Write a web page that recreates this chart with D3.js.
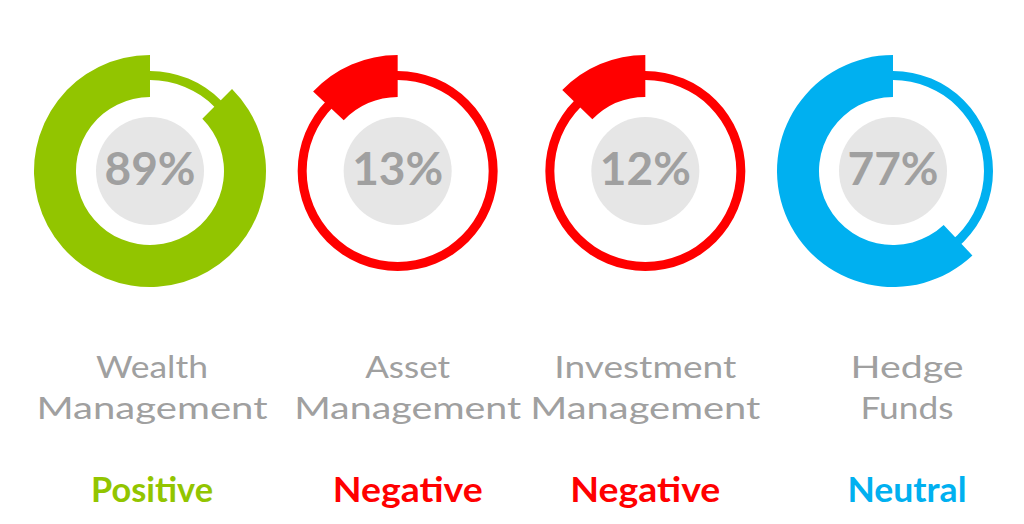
<!DOCTYPE html>
<html>
<head>
<meta charset="utf-8">
<script src="https://cdn.jsdelivr.net/npm/d3@7"></script>
<style>
  body { margin: 0; background: #fff; }
  svg { display: block; }
</style>
</head>
<body>
<script>
// Data
var categories = ["Wealth|Management", "Asset|Management", "Investment|Management", "Hedge|Funds"];
var pctLabels = ["89%", "13%", "12%", "77%"];
var arcShare = [87.5, 13, 12.7, 62];   // share of ring drawn thick, as it appears
var sentiments = ["Positive", "Negative", "Negative", "Neutral"];
var colors = ["#92c500", "#ff0000", "#ff0000", "#00b0f0"];

var width = 1024,
    height = 524,
    cy = 171,
    labelShift = [2, 10, 0, 14],       // text columns sit a touch right of the rings
    nameWidth = [[112, 231], [85, 227], [182, 230], [113, 93]],
    sentWidth = [122, 150, 150, 119];

var svg = d3.select("body")
    .append("svg")
    .attr("width", width)
    .attr("height", height);

var x = d3.scalePoint()
    .domain(d3.range(categories.length))
    .range([150, 893]);

var share = d3.scaleLinear()
    .domain([0, 100])
    .range([0, 2 * Math.PI]);

var thinArc = d3.arc()
    .innerRadius(91)
    .outerRadius(100)
    .startAngle(0)
    .endAngle(2 * Math.PI);

var thickArc = d3.arc()
    .innerRadius(74)
    .outerRadius(116)
    .startAngle(function(d) { return -share(d); })
    .endAngle(0);

var g = svg.selectAll("g.donut")
    .data(arcShare)
    .enter()
    .append("g")
    .attr("class", "donut")
    .attr("transform", function(d, i) {
        return "translate(" + x(i) + "," + cy + ")";
    });

// thin full ring underneath
g.append("path")
    .attr("d", thinArc)
    .attr("fill", function(d, i) { return colors[i]; });

// thick part, counter-clockwise from the top
g.append("path")
    .attr("d", thickArc)
    .attr("fill", function(d, i) { return colors[i]; });

g.append("circle")
    .attr("r", 54)
    .attr("fill", "#e6e6e6");

g.append("text")
    .attr("text-anchor", "middle")
    .attr("x", 0)
    .attr("y", 14)
    .style("font-family", "Lato, sans-serif")
    .style("font-weight", 700)
    .style("font-size", "46px")
    .attr("fill", "#a0a0a0")
    .text(function(d, i) { return pctLabels[i]; });

// category names, two lines each
var names = svg.selectAll("g.name")
    .data(categories)
    .enter()
    .append("g")
    .attr("class", "name");

names.each(function(d, i) {
    var lines = d.split("|");
    d3.select(this).selectAll("text")
        .data(lines)
        .enter()
        .append("text")
        .attr("text-anchor", "middle")
        .attr("x", x(i) + labelShift[i])
        .attr("y", function(l, j) { return 378 + j * 41; })
        .attr("textLength", function(l, j) { return nameWidth[i][j]; })
        .attr("lengthAdjust", "spacingAndGlyphs")
        .style("font-family", "Lato, sans-serif")
        .style("font-weight", 400)
        .style("font-size", "31px")
        .attr("fill", "#a0a0a0")
        .text(function(l) { return l; });
});

svg.selectAll("text.sentiment")
    .data(sentiments)
    .enter()
    .append("text")
    .attr("class", "sentiment")
    .attr("text-anchor", "middle")
    .attr("x", function(d, i) { return x(i) + labelShift[i]; })
    .attr("y", 502)
    .attr("textLength", function(d, i) { return sentWidth[i]; })
    .attr("lengthAdjust", "spacingAndGlyphs")
    .style("font-family", "Lato, sans-serif")
    .style("font-weight", 700)
    .style("font-size", "34px")
    .attr("fill", function(d, i) { return colors[i]; })
    .text(function(d) { return d; });
</script>
</body>
</html>
